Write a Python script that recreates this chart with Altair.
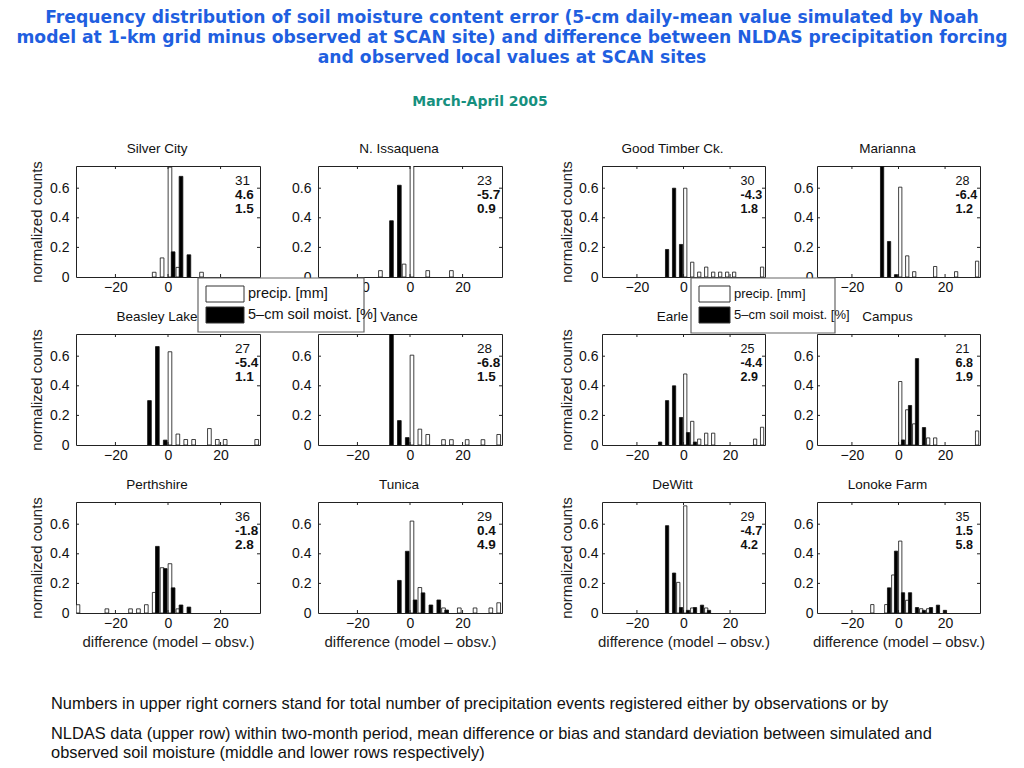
import altair as alt
import pandas as pd

SANS = "'Liberation Sans', Arial, Helvetica, sans-serif"
HEAD = "'DejaVu Sans', Verdana, sans-serif"
BLUE = "#1f5fe0"
TEAL = "#16907e"

TITLE_LINES = [
    "Frequency distribution of soil moisture content error (5-cm daily-mean value simulated by Noah",
    "model at 1-km grid minus observed at SCAN site) and difference between NLDAS precipitation forcing",
    "and observed local values at SCAN sites",
]
SUBTITLE = "March-April 2005"
CAPTION_TOP = "Numbers in upper right corners stand for total number of precipitation events  registered either by observations or by"
CAPTION_BOTTOM = [
    "NLDAS  data (upper row) within two-month period, mean difference or bias and standard deviation between simulated and",
    "observed soil moisture (middle and lower rows respectively)",
]
SERIES = ["precip. [mm]", "5\u2013cm soil moist. [%]"]
X_TICKS = [-20, 0, 20]
Y_TICKS = [0, 0.2, 0.4, 0.6]
X_TITLE = "difference (model \u2013 obsv.)"
Y_TITLE = "normalized counts"

# ---- panel data: bar positions (bin centres) and normalized counts ----
SILVER_CITY = dict(name="Silver City",
    precip_x=[-5.25, -2.25, 0.75, 3.75, 12.75], precip_y=[0.032, 0.129, 0.742, 0.065, 0.032],
    soil_x=[1.95, 4.95, 7.95], soil_y=[0.17, 0.68, 0.15], stats=["31", "4.6", "1.5"])
N_ISSAQUENA = dict(name="N. Issaquena",
    precip_x=[-11.25, -2.25, 0.75, 6.75, 15.75], precip_y=[0.043, 0.087, 0.783, 0.043, 0.043],
    soil_x=[-7.05, -4.05], soil_y=[0.38, 0.62], stats=["23", "-5.7", "0.9"])
BEASLEY_LAKE = dict(name="Beasley Lake",
    precip_x=[0.75, 3.75, 6.75, 9.75, 15.75, 18.75, 21.75, 33.75],
    precip_y=[0.63, 0.074, 0.037, 0.037, 0.111, 0.037, 0.037, 0.037],
    soil_x=[-7.05, -4.05, -1.05], soil_y=[0.30, 0.665, 0.033], stats=["27", "-5.4", "1.1"])
VANCE = dict(name="Vance",
    precip_x=[0.75, 3.75, 6.75, 12.75, 15.75, 21.75, 27.75, 33.75],
    precip_y=[0.607, 0.107, 0.071, 0.036, 0.036, 0.036, 0.036, 0.071],
    soil_x=[-7.05, -4.05, -1.05], soil_y=[0.785, 0.165, 0.05], stats=["28", "-6.8", "1.5"])
PERTHSHIRE = dict(name="Perthshire",
    precip_x=[-34.25, -23.25, -14.25, -11.25, -8.25, -5.25, -2.25, 0.75, 3.75],
    precip_y=[0.056, 0.028, 0.028, 0.028, 0.056, 0.139, 0.306, 0.333, 0.028],
    soil_x=[-4.05, -1.05, 1.95, 4.95, 7.95], soil_y=[0.45, 0.30, 0.17, 0.054, 0.04],
    stats=["36", "-1.8", "2.8"])
TUNICA = dict(name="Tunica",
    precip_x=[0.75, 3.75, 12.75, 18.75, 24.75, 30.75, 33.75],
    precip_y=[0.621, 0.172, 0.034, 0.034, 0.034, 0.034, 0.069],
    soil_x=[-4.05, -1.05, 1.95, 4.95, 7.95, 10.95, 13.95],
    soil_y=[0.22, 0.417, 0.088, 0.136, 0.054, 0.088, 0.02], stats=["29", "0.4", "4.9"])
GOOD_TIMBER = dict(name="Good Timber Ck.",
    precip_x=[0.75, 3.75, 6.75, 9.75, 12.75, 15.75, 18.75, 21.75, 33.75],
    precip_y=[0.60, 0.10, 0.033, 0.067, 0.033, 0.033, 0.033, 0.033, 0.067],
    soil_x=[-7.05, -4.05, -1.05], soil_y=[0.186, 0.60, 0.22], stats=["30", "-4.3", "1.8"])
MARIANNA = dict(name="Marianna",
    precip_x=[0.75, 3.75, 6.75, 15.75, 24.75, 33.75],
    precip_y=[0.607, 0.143, 0.036, 0.071, 0.036, 0.107],
    soil_x=[-7.05, -4.05, -1.05], soil_y=[0.745, 0.24, 0.016], stats=["28", "-6.4", "1.2"])
EARLE = dict(name="Earle",
    precip_x=[0.75, 3.75, 6.75, 9.75, 12.75, 30.75, 33.75],
    precip_y=[0.48, 0.16, 0.04, 0.08, 0.08, 0.04, 0.12],
    soil_x=[-10.05, -7.05, -4.05, -1.05, 1.95, 4.95],
    soil_y=[0.02, 0.30, 0.40, 0.186, 0.084, 0.02], stats=["25", "-4.4", "2.9"])
CAMPUS = dict(name="Campus",
    precip_x=[0.75, 3.75, 6.75, 12.75, 15.75, 33.75],
    precip_y=[0.429, 0.238, 0.143, 0.048, 0.048, 0.095],
    soil_x=[1.95, 4.95, 7.95, 10.95], soil_y=[0.034, 0.267, 0.584, 0.118],
    stats=["21", "6.8", "1.9"])
DEWITT = dict(name="DeWitt",
    precip_x=[-2.25, 0.75, 3.75, 9.75], precip_y=[0.207, 0.724, 0.034, 0.034],
    soil_x=[-7.05, -4.05, -1.05, 1.95, 4.95, 7.95, 10.95],
    soil_y=[0.59, 0.27, 0.037, 0.018, 0.037, 0.053, 0.018], stats=["29", "-4.7", "4.2"])
LONOKE_FARM = dict(name="Lonoke Farm",
    precip_x=[-11.25, -5.25, -2.25, 0.75, 3.75, 9.75, 12.75],
    precip_y=[0.057, 0.057, 0.257, 0.486, 0.086, 0.029, 0.029],
    soil_x=[-4.05, -1.05, 1.95, 4.95, 7.95, 10.95, 13.95, 16.95, 19.95],
    soil_y=[0.17, 0.418, 0.137, 0.137, 0.037, 0.018, 0.037, 0.053, 0.018],
    stats=["35", "1.5", "5.8"])

LEFT_ROWS = [[SILVER_CITY, N_ISSAQUENA], [BEASLEY_LAKE, VANCE], [PERTHSHIRE, TUNICA]]
RIGHT_ROWS = [[GOOD_TIMBER, MARIANNA], [EARLE, CAMPUS], [DEWITT, LONOKE_FARM]]

H = 111
# legend placement (pixels relative to host panel's plot origin)
LEFT_LEGEND = dict(box=(-120, 46, 112, 166), sym=(-112, -74), rows=(120, 141), sym_h=16, label_x=-70, size=14.5)
RIGHT_LEGEND = dict(box=(-126, 18, 112, 167), sym=(-118, -87), rows=(120, 141), sym_h=16, label_x=-83, size=13)
LEFT_STYLE = dict(width=184, col_space=58, label_pad=7, title_pad=5, label_size=14, text_size=13.5, text_x=25.5)
RIGHT_STYLE = dict(width=163, col_space=52, label_pad=4, title_pad=4, label_size=14, text_size=12.5, text_x=24.5)


def make_df(p):
    rows = [{"x": x, "value": v, "series": SERIES[0]} for x, v in zip(p["precip_x"], p["precip_y"])]
    rows += [{"x": x, "value": v, "series": SERIES[1]} for x, v in zip(p["soil_x"], p["soil_y"])]
    return pd.DataFrame(rows)


def panel(p, st, ytitle, xtitle, legend=None):
    width = st["width"]
    df = make_df(p)
    xs = alt.Scale(domain=[-35, 35], nice=False, zero=False)
    ys = alt.Scale(domain=[0, 0.75], nice=False)
    xaxis = alt.Axis(values=X_TICKS, grid=False, ticks=False, domain=False, labelPadding=3,
                     labelFontSize=st["label_size"], title=X_TITLE if xtitle else None, titlePadding=4)
    yaxis = alt.Axis(values=Y_TICKS, format="~g", grid=False, ticks=False, domain=False,
                     labelPadding=st["label_pad"], labelFontSize=st["label_size"], labelOverlap=False,
                     title=Y_TITLE if ytitle else None, titlePadding=st["title_pad"])
    bars = alt.Chart(df).transform_calculate(
        x0="datum.x - 0.7", x1="datum.x + 0.7", base="0"
    ).mark_bar(stroke="#111", strokeWidth=0.8, clip=True).encode(
        x=alt.X("x0:Q", scale=xs, axis=xaxis),
        x2="x1:Q",
        y=alt.Y("value:Q", scale=ys, axis=yaxis),
        y2="base:Q",
        fill=alt.Fill("series:N", scale=alt.Scale(domain=SERIES, range=["white", "black"]), legend=None),
    )
    tx = pd.DataFrame({"t": X_TICKS})
    ty = pd.DataFrame({"t": Y_TICKS[1:]})
    tick_b = alt.Chart(tx).mark_rule(color="#222").encode(
        x=alt.X("t:Q", scale=xs, axis=xaxis), y=alt.value(H), y2=alt.value(H - 3))
    tick_t = alt.Chart(tx).mark_rule(color="#222").encode(
        x=alt.X("t:Q", scale=xs, axis=xaxis), y=alt.value(0), y2=alt.value(3))
    tick_l = alt.Chart(ty).mark_rule(color="#222").encode(
        y=alt.Y("t:Q", scale=ys, axis=yaxis), x=alt.value(0), x2=alt.value(3))
    tick_r = alt.Chart(ty).mark_rule(color="#222").encode(
        y=alt.Y("t:Q", scale=ys, axis=yaxis), x=alt.value(width), x2=alt.value(width - 3))

    sdf = pd.DataFrame({"n": [p["stats"][0]], "bias": [p["stats"][1]], "sd": [p["stats"][2]]})
    texts = []
    for i, (field, weight) in enumerate([("n", "normal"), ("bias", "bold"), ("sd", "bold")]):
        texts.append(alt.Chart(sdf).mark_text(align="left", baseline="middle", font=SANS,
                                              fontSize=st["text_size"], fontWeight=weight, color="#111").encode(
            x=alt.datum(st["text_x"]), y=alt.value(15 + 14 * i), text=f"{field}:N"))

    layers = [bars, tick_b, tick_t, tick_l, tick_r] + texts
    if legend is not None:
        ldf = pd.DataFrame({"label": SERIES, "row": [0, 1]})
        b = legend["box"]
        layers.append(alt.Chart(ldf).transform_filter("datum.row == 0").mark_rect(
            fill="white", stroke="#666", strokeWidth=1.2).encode(
            x=alt.value(b[0]), x2=alt.value(b[1]), y=alt.value(b[2]), y2=alt.value(b[3])))
        for i, col in enumerate(["white", "black"]):
            y0 = legend["rows"][i]
            layers.append(alt.Chart(ldf).transform_filter(f"datum.row == {i}").mark_rect(
                fill=col, stroke="#333", strokeWidth=1).encode(
                x=alt.value(legend["sym"][0]), x2=alt.value(legend["sym"][1]),
                y=alt.value(y0), y2=alt.value(y0 + legend["sym_h"])))
            layers.append(alt.Chart(ldf).transform_filter(f"datum.row == {i}").mark_text(
                align="left", baseline="middle", font=SANS, fontSize=legend["size"], color="#111").encode(
                x=alt.value(legend["label_x"]), y=alt.value(y0 + legend["sym_h"] / 2), text="label:N"))

    return alt.layer(*layers).properties(
        width=width, height=H,
        title=alt.TitleParams(p["name"], font=SANS, fontSize=13.5, fontWeight="normal",
                              color="#111", offset=5 if ytitle else 10, frame="group", dx=-11),
    )


def block(rows, st, legend):
    cells = []
    for r, (a, b) in enumerate(rows):
        last = r == len(rows) - 1
        cells.append(panel(a, st, True, last))
        cells.append(panel(b, st, False, last, legend if r == 0 else None))
    return alt.concat(*cells, columns=2, spacing={"row": 57, "column": st["col_space"]}, bounds="flush")


left = block(LEFT_ROWS, LEFT_STYLE, LEFT_LEGEND)
right = block(RIGHT_ROWS, RIGHT_STYLE, RIGHT_LEGEND)

content = alt.hconcat(left, right, spacing=56).properties(
    title=alt.TitleParams(CAPTION_TOP, orient="bottom", anchor="start", font=SANS, fontSize=16.4,
                          fontWeight="normal", color="#111", offset=46, dx=22)
)
with_caption = alt.vconcat(content).properties(
    title=alt.TitleParams(CAPTION_BOTTOM, orient="bottom", anchor="start", font=SANS, fontSize=16.4,
                          fontWeight="normal", color="#111", lineHeight=19, offset=14, dx=22)
)
mid = alt.vconcat(with_caption).properties(
    title=alt.TitleParams(SUBTITLE, font=HEAD, fontSize=14, fontWeight="bold", color=TEAL,
                          anchor="middle", dx=-27, offset=33)
)
chart = alt.vconcat(mid).properties(
    title=alt.TitleParams(TITLE_LINES, font=HEAD, fontSize=17.2, fontWeight="bold", color=BLUE,
                          anchor="middle", lineHeight=20, offset=28, dx=5),
    padding={"left": 8, "top": 1, "right": 0, "bottom": 0},
    background="white",
).configure_view(stroke="#222", strokeWidth=1).configure_axis(
    labelFont=SANS, labelFontSize=15, labelColor="#111",
    titleFont=SANS, titleFontSize=15, titleFontWeight="normal", titleColor="#222",
)

chart.save("out.html", embed_options={"renderer": "svg", "actions": False})
